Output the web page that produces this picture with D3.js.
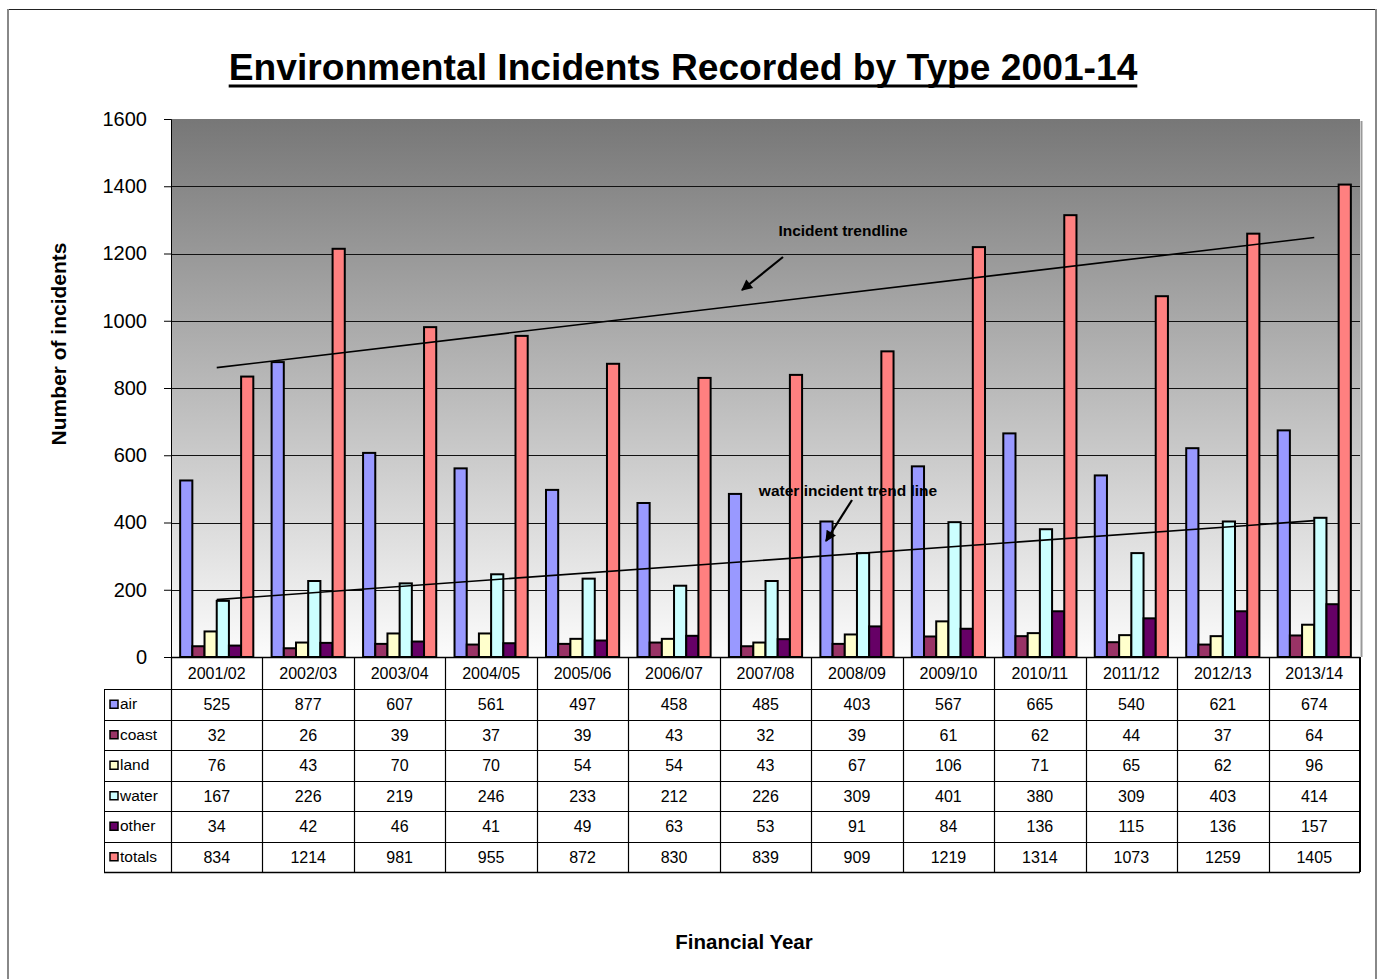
<!DOCTYPE html>
<html><head><meta charset="utf-8">
<script src="https://cdn.jsdelivr.net/npm/d3@7"></script>
<style>html,body{margin:0;padding:0;background:#fff;}svg{display:block;font-family:"Liberation Sans",Arial,sans-serif;}</style>
</head><body>
<script>
const categories = ["2001/02","2002/03","2003/04","2004/05","2005/06","2006/07","2007/08","2008/09","2009/10","2010/11","2011/12","2012/13","2013/14"];
const seriesNames = ["air","coast","land","water","other","totals"];
const air    = [525,877,607,561,497,458,485,403,567,665,540,621,674];
const coast  = [32,26,39,37,39,43,32,39,61,62,44,37,64];
const land   = [76,43,70,70,54,54,43,67,106,71,65,62,96];
const water  = [167,226,219,246,233,212,226,309,401,380,309,403,414];
const other  = [34,42,46,41,49,63,53,91,84,136,115,136,157];
const totals = [834,1214,981,955,872,830,839,909,1219,1314,1073,1259,1405];
const yTicks = [0,200,400,600,800,1000,1200,1400,1600];
const colors = ["#9999FF","#993366","#FFFFCC","#CCFFFF","#660066","#FF8080"];
const seriesData = [air,coast,land,water,other,totals];

const W=1383,H=979;
const svg=d3.select("body").append("svg").attr("width",W).attr("height",H);
const L=171,R=1360,T=119,B=657;

// outer frame
svg.append("rect").attr("x",7.5).attr("y",9.5).attr("width",1369).attr("height",990)
  .attr("fill","none").attr("stroke","#222").attr("stroke-width",1);
svg.append("line").attr("x1",8).attr("x2",8).attr("y1",9).attr("y2",H).attr("stroke","#888").attr("stroke-width",2);
svg.append("line").attr("x1",1376).attr("x2",1376).attr("y1",9).attr("y2",H).attr("stroke","#888").attr("stroke-width",2);

const y=d3.scaleLinear().domain([0,1600]).range([B,T]);
const x=d3.scaleBand().domain(categories).range([L,R]).paddingInner(0).paddingOuter(0);
const xs=d3.scaleBand().domain(seriesNames).range([0,x.bandwidth()]).paddingInner(0).paddingOuter(0.75);

// gradient background
const defs=svg.append("defs");
const g=defs.append("linearGradient").attr("id","bg").attr("x1",0).attr("x2",0).attr("y1",0).attr("y2",1);
g.append("stop").attr("offset","0%").attr("stop-color","#777777");
g.append("stop").attr("offset","100%").attr("stop-color","#FCFCFC");
svg.append("rect").attr("x",L).attr("y",T).attr("width",R-L).attr("height",B-T).attr("fill","url(#bg)");
svg.append("line").attr("x1",R+1.5).attr("x2",R+1.5).attr("y1",T+2).attr("y2",B).attr("stroke","#999").attr("stroke-width",2);

// gridlines
svg.append("g").selectAll("line").data(yTicks.filter(d=>d>0&&d<1600)).join("line")
  .attr("x1",L).attr("x2",R).attr("y1",d=>Math.round(y(d))+0.5).attr("y2",d=>Math.round(y(d))+0.5)
  .attr("stroke","#111").attr("stroke-width",1);

// y axis
const yAxis=d3.axisLeft(y).tickValues(yTicks).tickSize(7).tickPadding(17).tickFormat(d3.format("d"));
const ya=svg.append("g").attr("transform",`translate(${L},0)`).call(yAxis);
ya.select(".domain").attr("stroke","#000");
ya.selectAll(".tick line").attr("stroke","#000");
ya.selectAll("text").attr("font-size",20).attr("fill","#000").attr("font-family","Liberation Sans, Arial, sans-serif");

// bars
seriesNames.forEach((s,si)=>{
  svg.append("g").selectAll("rect").data(seriesData[si]).join("rect")
    .attr("x",(d,i)=>x(categories[i])+xs(s))
    .attr("y",d=>y(d))
    .attr("width",xs.bandwidth())
    .attr("height",d=>B-y(d))
    .attr("fill",colors[si]).attr("stroke","#000").attr("stroke-width",2);
});

// trendlines (least squares from data)
function fit(vals){
  const n=vals.length; const xsv=d3.range(1,n+1);
  const mx=d3.mean(xsv), my=d3.mean(vals);
  let sxy=0,sxx=0; vals.forEach((v,i)=>{sxy+=(xsv[i]-mx)*(v-my);sxx+=(xsv[i]-mx)**2;});
  const b=sxy/sxx, a=my-b*mx; return [a+b*1, a+b*n];
}
[totals,water].forEach(vals=>{
  const [v0,v1]=fit(vals);
  svg.append("line")
    .attr("x1",x(categories[0])+x.bandwidth()/2).attr("y1",y(v0))
    .attr("x2",x(categories[categories.length-1])+x.bandwidth()/2).attr("y2",y(v1))
    .attr("stroke","#000").attr("stroke-width",1.6);
});

// Annotation texts
svg.append("text").attr("x",843).attr("y",236).attr("text-anchor","middle").attr("font-weight","bold").attr("font-size",15.5).text("Incident trendline");
svg.append("text").attr("x",848).attr("y",496).attr("text-anchor","middle").attr("font-weight","bold").attr("font-size",15.5).text("water incident trend line");

// arrows
defs.append("marker").attr("id","ah").attr("viewBox","0 0 10 10").attr("refX",9).attr("refY",5)
  .attr("markerWidth",6).attr("markerHeight",5).attr("markerUnits","strokeWidth").attr("orient","auto")
  .append("path").attr("d","M0,0 L10,5 L0,10 z").attr("fill","#000");
svg.append("line").attr("x1",783).attr("y1",257).attr("x2",742).attr("y2",290).attr("stroke","#000").attr("stroke-width",2.2).attr("marker-end","url(#ah)");
svg.append("line").attr("x1",852).attr("y1",500).attr("x2",826).attr("y2",541).attr("stroke","#000").attr("stroke-width",2.2).attr("marker-end","url(#ah)");

// x axis line
svg.append("line").attr("x1",L).attr("x2",R).attr("y1",B+0.5).attr("y2",B+0.5).attr("stroke","#000").attr("stroke-width",1.5);

// data table
const rowTop=689, rowH=30.5, legL=104;
const tbl=svg.append("g");
tbl.selectAll("text.cat").data(categories).join("text").attr("class","cat")
  .attr("x",d=>x(d)+x.bandwidth()/2).attr("y",(B+rowTop)/2+5.5)
  .attr("text-anchor","middle").attr("font-size",16).text(d=>d);
categories.forEach((c,i)=>{
  tbl.append("line").attr("x1",Math.round(x(c))+0.5).attr("x2",Math.round(x(c))+0.5)
    .attr("y1",B).attr("y2",rowTop+rowH*6).attr("stroke","#000").attr("stroke-width",1.2);
});
tbl.append("line").attr("x1",R).attr("x2",R).attr("y1",B).attr("y2",rowTop+rowH*6).attr("stroke","#000").attr("stroke-width",2);
tbl.append("line").attr("x1",legL+0.5).attr("x2",legL+0.5).attr("y1",rowTop).attr("y2",rowTop+rowH*6).attr("stroke","#000").attr("stroke-width",1);
d3.range(7).forEach(r=>{
  tbl.append("line").attr("x1",legL).attr("x2",R).attr("y1",Math.round(rowTop+r*rowH)+0.5).attr("y2",Math.round(rowTop+r*rowH)+0.5)
    .attr("stroke","#000").attr("stroke-width",r===6?1.5:1);
});
seriesNames.forEach((s,si)=>{
  const cy=rowTop+si*rowH+rowH/2;
  tbl.append("rect").attr("x",110).attr("y",cy-4).attr("width",8).attr("height",8)
    .attr("fill",colors[si]).attr("stroke","#000").attr("stroke-width",1.5);
  tbl.append("text").attr("x",120).attr("y",cy+5).attr("font-size",15.5).text(s);
  tbl.selectAll(null).data(seriesData[si]).join("text")
    .attr("x",(d,i)=>x(categories[i])+x.bandwidth()/2).attr("y",cy+6)
    .attr("text-anchor","middle").attr("font-size",16).text(d=>d);
});

// titles
const title=svg.append("text").attr("x",683).attr("y",80).attr("text-anchor","middle")
  .attr("font-weight","bold").attr("font-size",37.2).text("Environmental Incidents Recorded by Type 2001-14");
const tw=title.node().getComputedTextLength();
svg.append("rect").attr("x",683-tw/2).attr("y",84.5).attr("width",tw).attr("height",3).attr("fill","#000");
svg.append("text").attr("transform","translate(66,344) rotate(-90)").attr("text-anchor","middle")
  .attr("font-weight","bold").attr("font-size",21).text("Number of incidents");
svg.append("text").attr("x",744).attr("y",949).attr("text-anchor","middle")
  .attr("font-weight","bold").attr("font-size",20.5).text("Financial Year");
</script>
</body></html>
